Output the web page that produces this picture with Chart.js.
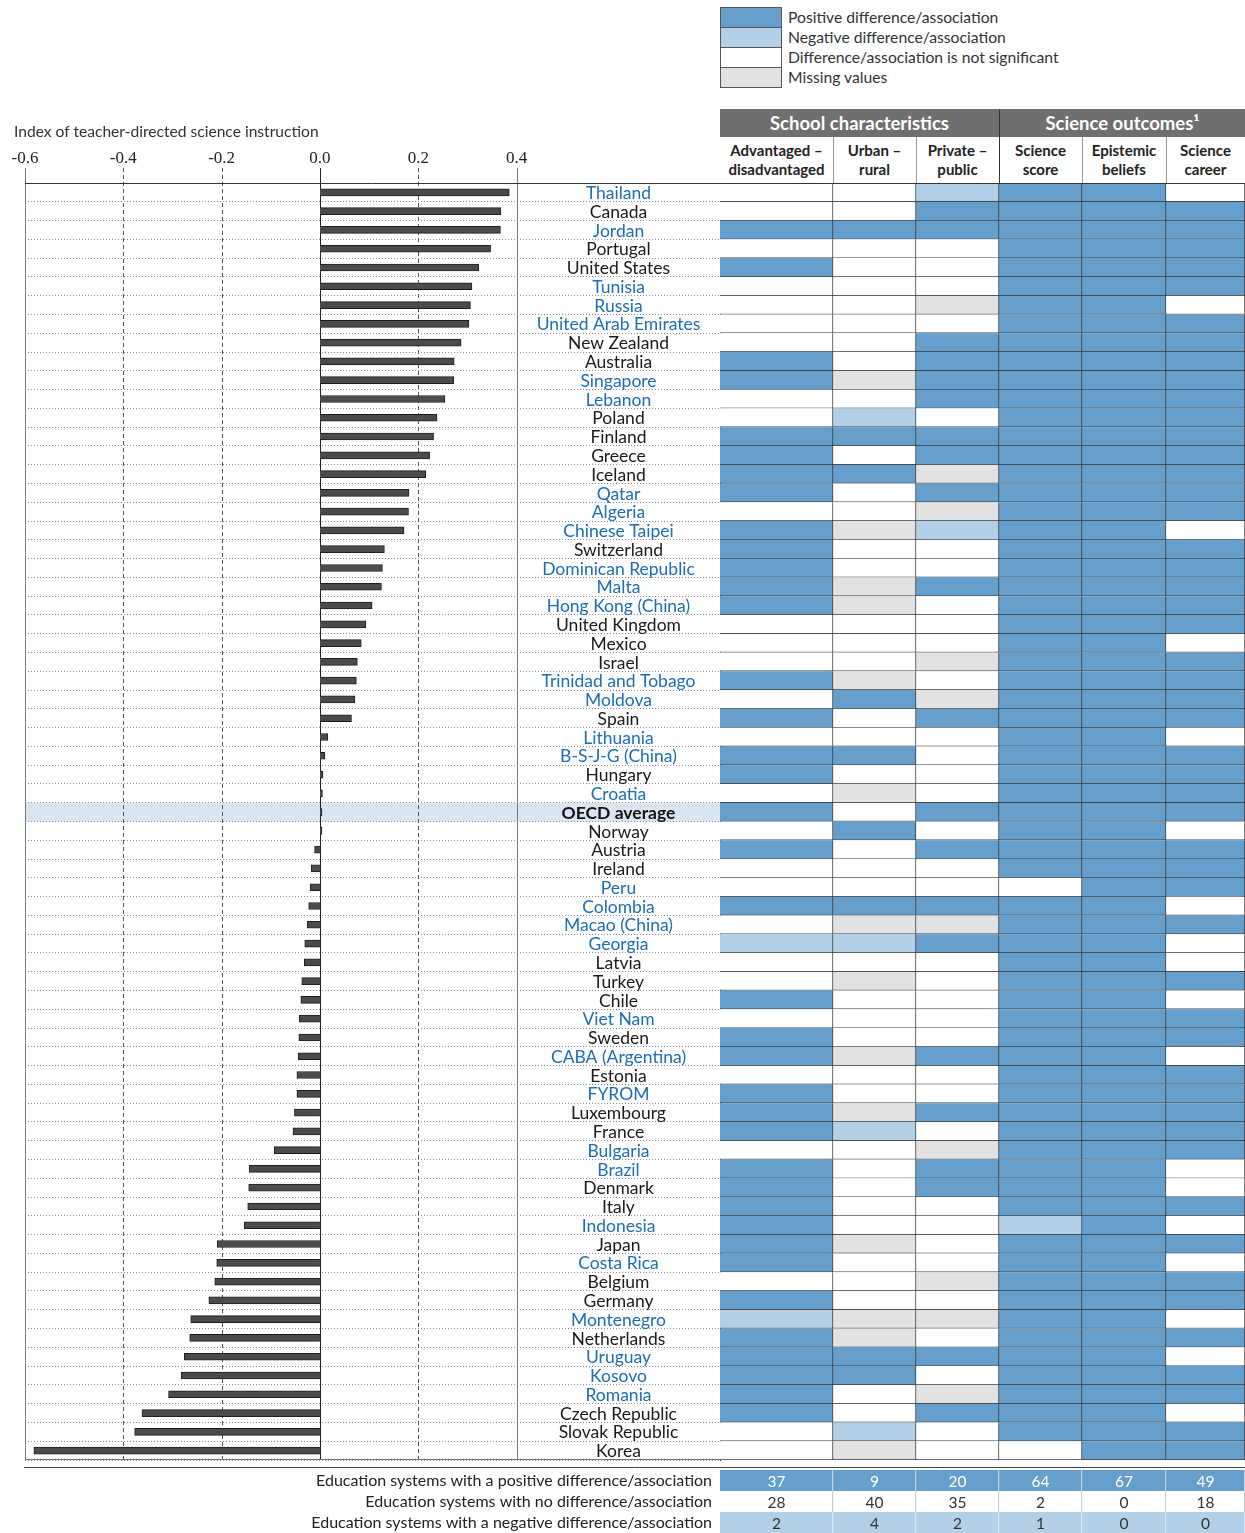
<!DOCTYPE html>
<html>
<head>
<meta charset="utf-8">
<script src="https://cdn.jsdelivr.net/npm/chart.js@4.4.0/dist/chart.umd.min.js"></script>
<style>
  body { margin: 0; background: #fff; font-family: Lato, sans-serif; }
  #page { position: relative; width: 1245px; height: 1533px; overflow: hidden; background: #fff; }
  .abs { position: absolute; }
  canvas { display: block; }
  .legendBox { left: 720px; top: 7px; width: 60px; border: 1px solid #555; }
  .legendBox div { height: 19px; border-top: 1px solid #555; }
  .legendBox div:first-child { border-top: none; }
  .legendText { left: 788px; font-size: 15.7px; color: #333; line-height: 20px; }
  .grp { top: 109px; height: 28px; line-height: 28px; background: #6f6f6f; color: #fff; font-weight: bold; font-size: 18.5px; text-align: center; }
  .colHead { top: 141px; font-weight: bold; font-size: 15px; line-height: 19px; color: #222; text-align: center; }
  .sep { top: 137px; width: 1px; height: 46px; background: #999; }
</style>
</head>
<body>
<div id="page">

  <!-- legend -->
  <div class="abs legendBox">
    <div style="background:#669fcc"></div>
    <div style="background:#b4d0e6"></div>
    <div style="background:#ffffff"></div>
    <div style="background:#e2e2e2"></div>
  </div>
  <div class="abs legendText" style="top:7px">Positive difference/association</div>
  <div class="abs legendText" style="top:27px">Negative difference/association</div>
  <div class="abs legendText" style="top:47px">Difference/association is not significant</div>
  <div class="abs legendText" style="top:67px">Missing values</div>

  <!-- table header -->
  <div class="abs grp" style="left:720px;width:279px">School characteristics</div>
  <div class="abs grp" style="left:1000px;width:245px">Science outcomes¹</div>
  <div class="abs" style="left:999px;top:109px;width:1px;height:74px;background:#333"></div>
  <div class="abs colHead" style="left:720px;width:113px">Advantaged –<br>disadvantaged</div>
  <div class="abs colHead" style="left:833px;width:83px">Urban –<br>rural</div>
  <div class="abs colHead" style="left:916px;width:83px">Private –<br>public</div>
  <div class="abs colHead" style="left:999px;width:83px">Science<br>score</div>
  <div class="abs colHead" style="left:1082px;width:84px">Epistemic<br>beliefs</div>
  <div class="abs colHead" style="left:1166px;width:79px">Science<br>career</div>
  <div class="abs sep" style="left:833px"></div>
  <div class="abs sep" style="left:916px"></div>
  <div class="abs sep" style="left:1082px"></div>
  <div class="abs sep" style="left:1166px"></div>

  <div class="abs" style="left:0;top:100px"><canvas id="barChart" width="720" height="1370"></canvas></div>
  <div class="abs" style="left:517px;top:178px"><canvas id="tableChart" width="728" height="1287"></canvas></div>
  <div class="abs" style="left:0;top:1464px"><canvas id="summaryChart" width="1245" height="69"></canvas></div>

  <div class="abs" style="left:14px;top:122px;font-size:15.6px;color:#333">Index of teacher-directed science instruction</div>
</div>

<script>
// ---- data ----
const countries = [
    'Thailand', 'Canada', 'Jordan', 'Portugal', 'United States', 'Tunisia', 'Russia',
    'United Arab Emirates', 'New Zealand', 'Australia', 'Singapore', 'Lebanon', 'Poland',
    'Finland', 'Greece', 'Iceland', 'Qatar', 'Algeria', 'Chinese Taipei', 'Switzerland',
    'Dominican Republic', 'Malta', 'Hong Kong (China)', 'United Kingdom', 'Mexico', 'Israel',
    'Trinidad and Tobago', 'Moldova', 'Spain', 'Lithuania', 'B-S-J-G (China)', 'Hungary',
    'Croatia', 'OECD average', 'Norway', 'Austria', 'Ireland', 'Peru', 'Colombia',
    'Macao (China)', 'Georgia', 'Latvia', 'Turkey', 'Chile', 'Viet Nam', 'Sweden',
    'CABA (Argentina)', 'Estonia', 'FYROM', 'Luxembourg', 'France', 'Bulgaria', 'Brazil',
    'Denmark', 'Italy', 'Indonesia', 'Japan', 'Costa Rica', 'Belgium', 'Germany',
    'Montenegro', 'Netherlands', 'Uruguay', 'Kosovo', 'Romania', 'Czech Republic',
    'Slovak Republic', 'Korea'
];

// partner economies (labels shown in blue)
const partners = [
    'Thailand', 'Jordan', 'Tunisia', 'Russia', 'United Arab Emirates', 'Singapore', 'Lebanon',
    'Qatar', 'Algeria', 'Chinese Taipei', 'Dominican Republic', 'Malta', 'Hong Kong (China)',
    'Trinidad and Tobago', 'Moldova', 'Lithuania', 'B-S-J-G (China)', 'Croatia', 'Peru',
    'Colombia', 'Macao (China)', 'Georgia', 'Viet Nam', 'CABA (Argentina)', 'FYROM',
    'Bulgaria', 'Brazil', 'Indonesia', 'Costa Rica', 'Montenegro', 'Uruguay', 'Kosovo', 'Romania'
];

const indexValues = [
    0.385, 0.368, 0.367, 0.347, 0.323, 0.309, 0.306, 0.303, 0.287, 0.273, 0.272, 0.254,
    0.238, 0.231, 0.223, 0.215, 0.181, 0.180, 0.171, 0.131, 0.127, 0.125, 0.106, 0.093,
    0.084, 0.076, 0.074, 0.071, 0.064, 0.016, 0.010, 0.006, 0.005, 0.004, 0.004, -0.011,
    -0.018, -0.020, -0.023, -0.026, -0.031, -0.032, -0.037, -0.039, -0.042, -0.043, -0.044,
    -0.047, -0.047, -0.052, -0.055, -0.093, -0.144, -0.145, -0.147, -0.154, -0.209, -0.210,
    -0.214, -0.226, -0.263, -0.265, -0.276, -0.282, -0.308, -0.362, -0.377, -0.582
];

// P = positive, N = negative, W = not significant, M = missing (one letter per country, same order)
const codes = s => s.replace(/ /g, '').split('');
const colAdvantaged = codes('WWPWP WWWWP PWWPP PPWPP PPPWW WPWPW PPWP  WPWWP WNWWP WPPWP PPWPP PPPPW PNPPP PPWW');
const colUrban      = codes('WWPWW WWWWW MWNPW PWWMW WMMWW WMPWW PWMW  PWWWP MNWMW WWMWW MNWWW WWMWW WMMPP WWNM');
const colPrivate    = codes('NPPWW WMWPP PPWPP MPMNW WPWWW MWMPW WWWP  WPWWP MPWWW WWPWW PWMPP WWWWM WMWPW MPWW');
const colScore      = codes('PPPPP PPPPP PPPPP PPPPP PPPPP PPPPP PPPP  PPPWP PPPPP PPPPP PPPPP PNPPP PPPPP PPPW');
const colBeliefs    = codes('PPPPP PPPPP PPPPP PPPPP PPPPP PPPPP PPPP  PPPPP PPPPP PPPPP PPPPP PPPPP PPPPP PPPP');
const colCareer     = codes('WPPPP PWPPP PPPPP PPPWP PPPPW PPPPW PPPP  WPPPW PWWPW PPWPP PPPWW PWPWP PWPWP PWPP');

const summaryLabels = [
    'Education systems with a positive difference/association',
    'Education systems with no difference/association',
    'Education systems with a negative difference/association'
];
const positiveCounts = [37, 9, 20, 64, 67, 49];
const noneCounts = [28, 40, 35, 2, 0, 18];
const negativeCounts = [2, 4, 2, 1, 0, 0];

// ---- layout / styles ----
const cellColors = { P: '#669fcc', N: '#b4d0e6', W: '#ffffff', M: '#e2e2e2' };
const colEdges = [0, 113, 196, 279, 362, 446, 525];   // column boundaries inside the table (px units)
const oecdIdx = countries.indexOf('OECD average');
const labelFont = 'Lato';

Chart.defaults.font.family = labelFont;

// Highlight for OECD average row + reference lines of the index axis
const barDecor = {
    id: 'barDecor',
    beforeDraw(chart) {
        const { ctx, chartArea: a, scales: { y } } = chart;
        const half = (y.getPixelForValue(1) - y.getPixelForValue(0)) / 2;
        const cy = y.getPixelForValue(oecdIdx);
        ctx.save();
        ctx.fillStyle = '#d9e6f2';
        ctx.fillRect(a.left, cy - half, a.right - a.left, half * 2);
        ctx.restore();
    },
    beforeDatasetsDraw(chart) {
        const { ctx, chartArea: a, scales: { x } } = chart;
        ctx.save();
        ctx.lineWidth = 1;
        x.ticks.forEach(t => {
            const v = Math.round(t.value * 10) / 10;
            const solid = v === -0.6 || v === 0 || v === 0.4;
            const px = Math.round(x.getPixelForValue(t.value)) + 0.5;
            ctx.beginPath();
            ctx.setLineDash(solid ? [] : [4, 3]);
            ctx.strokeStyle = v === 0 ? '#222' : (solid ? '#777' : '#555');
            ctx.moveTo(px, a.top - 15);
            ctx.lineTo(px, a.bottom);
            ctx.stroke();
        });
        ctx.setLineDash([]);
        ctx.strokeStyle = '#333';
        ctx.beginPath();
        ctx.moveTo(a.left, Math.round(a.top) + 0.5);
        ctx.lineTo(a.right, Math.round(a.top) + 0.5);
        ctx.stroke();
        ctx.strokeStyle = '#777';
        ctx.beginPath();
        ctx.moveTo(a.left, Math.round(a.bottom) - 0.5);
        ctx.lineTo(a.right, Math.round(a.bottom) - 0.5);
        ctx.stroke();
        ctx.restore();
    }
};

new Chart(document.getElementById('barChart'), {
    type: 'bar',
    data: {
        labels: countries,
        datasets: [{
            data: indexValues,
            backgroundColor: '#4b4b4b',
            borderColor: '#1e1e1e',
            borderWidth: 1,
            barThickness: 7
        }]
    },
    options: {
        indexAxis: 'y',
        responsive: false,
        animation: false,
        layout: { padding: { left: 25, right: 0, top: 0, bottom: 10 } },
        plugins: { legend: { display: false }, tooltip: { enabled: false } },
        scales: {
            x: {
                type: 'linear',
                position: 'top',
                min: -0.6,
                max: 0.8136,   // 0.4 lands on the label column edge
                ticks: {
                    stepSize: 0.2,
                    padding: 6,
                    color: '#222',
                    maxRotation: 0,
                    autoSkip: false,
                    font: { family: 'Liberation Serif', size: 17 },
                    callback: v => v.toFixed(1)
                },
                grid: { display: false },
                border: { display: false },
                afterBuildTicks: s => { s.ticks = s.ticks.filter(t => t.value <= 0.4001); },
                afterFit: s => { s.height = 83; s.paddingLeft = 0; s.paddingRight = 0; }
            },
            y: {
                ticks: { display: false },
                grid: { color: '#8c8c8c', lineWidth: 1, drawTicks: false },
                border: { display: false, dash: [1, 2] },
                afterFit: s => { s.width = 0; s.paddingTop = 0; s.paddingBottom = 0; }
            }
        }
    },
    plugins: [barDecor]
});

// country names, centred in the label column (the y axis box of the table chart)
const tableDecor = {
    id: 'tableDecor',
    afterDatasetsDraw(chart) {
        const { ctx, chartArea: a, scales: { y } } = chart;
        ctx.save();
        ctx.strokeStyle = '#333';
        ctx.lineWidth = 1;
        ctx.beginPath();
        ctx.moveTo(a.left, Math.round(a.top) + 0.5);
        ctx.lineTo(a.right, Math.round(a.top) + 0.5);
        ctx.stroke();

        const cx = y.left + y.width / 2;
        ctx.textAlign = 'center';
        ctx.textBaseline = 'middle';
        countries.forEach((name, i) => {
            const isAvg = i === oecdIdx;
            ctx.font = (isAvg ? 'bold ' : '') + '17.5px ' + labelFont;
            ctx.fillStyle = isAvg ? '#111' : (partners.includes(name) ? '#1b6eb7' : '#1a1a1a');
            ctx.fillText(name, cx, y.getPixelForValue(i) + 1);
        });
        ctx.restore();
    }
};

const tableColumns = [colAdvantaged, colUrban, colPrivate, colScore, colBeliefs, colCareer];

new Chart(document.getElementById('tableChart'), {
    type: 'bar',
    data: {
        labels: countries,
        datasets: tableColumns.map((col, c) => ({
            data: col.map(() => [colEdges[c], colEdges[c + 1]]),
            backgroundColor: col.map(k => cellColors[k]),
            borderColor: '#3b3b3b',
            borderWidth: { top: 0, left: 0, right: 1, bottom: 1 },
            borderSkipped: false,
            grouped: false,
            barPercentage: 1,
            categoryPercentage: 1
        }))
    },
    options: {
        indexAxis: 'y',
        responsive: false,
        animation: false,
        layout: { padding: { left: 0, right: 0, top: 5, bottom: 5 } },
        plugins: { legend: { display: false }, tooltip: { enabled: false } },
        scales: {
            x: { type: 'linear', display: false, min: colEdges[0], max: colEdges[colEdges.length - 1] },
            y: {
                position: 'left',
                ticks: { display: false },
                grid: { display: false },
                border: { display: true, color: '#333', width: 1 },
                afterFit: s => { s.width = 203; s.paddingTop = 0; s.paddingBottom = 0; }
            }
        }
    },
    plugins: [tableDecor]
});

// summary rows
const summaryRows = [positiveCounts, noneCounts, negativeCounts];
const summaryFill = [cellColors.P, cellColors.W, cellColors.N];

const summaryText = {
    id: 'summaryText',
    afterDatasetsDraw(chart) {
        const { ctx } = chart;
        ctx.save();
        ctx.font = '15.5px ' + labelFont;
        ctx.textAlign = 'center';
        ctx.textBaseline = 'middle';
        chart.data.datasets.forEach((ds, c) => {
            chart.getDatasetMeta(c).data.forEach((bar, r) => {
                ctx.fillStyle = r === 0 ? '#ffffff' : '#333';
                ctx.fillText(String(summaryRows[r][c]), (bar.x + bar.base) / 2, bar.y + 1);
            });
        });
        ctx.strokeStyle = '#444';
        ctx.lineWidth = 1;
        ctx.beginPath();
        ctx.moveTo(24, 3.5);
        ctx.lineTo(chart.width, 3.5);
        ctx.stroke();
        ctx.restore();
    }
};

new Chart(document.getElementById('summaryChart'), {
    type: 'bar',
    data: {
        labels: summaryLabels,
        datasets: colEdges.slice(0, -1).map((e, c) => ({
            data: summaryRows.map(() => [colEdges[c], colEdges[c + 1]]),
            backgroundColor: summaryFill,
            borderColor: ['#e8f0f8', '#b5b5b5', '#e8f0f8'],
            borderWidth: { top: 0, left: 0, right: 1, bottom: 0 },
            borderSkipped: false,
            grouped: false,
            barPercentage: 1,
            categoryPercentage: 1
        }))
    },
    options: {
        indexAxis: 'y',
        responsive: false,
        animation: false,
        layout: { padding: { left: 0, right: 0, top: 6, bottom: 0 } },
        plugins: { legend: { display: false }, tooltip: { enabled: false } },
        scales: {
            x: { type: 'linear', display: false, min: colEdges[0], max: colEdges[colEdges.length - 1] },
            y: {
                position: 'left',
                ticks: { autoSkip: false, padding: 8, color: '#222', font: { family: labelFont, size: 16 } },
                grid: { display: false, drawTicks: false },
                border: { display: false },
                afterFit: s => { s.width = 720; s.paddingTop = 0; s.paddingBottom = 0; }
            }
        }
    },
    plugins: [summaryText]
});
</script>
</body>
</html>
